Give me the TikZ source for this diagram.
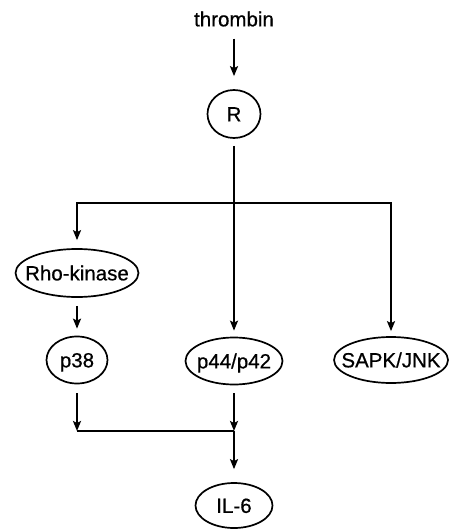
\documentclass[tikz,border=0pt]{standalone}
\usepackage{fontspec}
\setmainfont[FakeBold=0.6,AutoFakeBold=0.6]{Liberation Sans}
\usetikzlibrary{shapes.geometric,arrows.meta}
\newcommand{\zw}[1]{\makebox[0pt][c]{#1}}
\begin{document}
\begin{tikzpicture}[x=1pt,y=-1pt,
  every node/.style={font=\fontsize{20.5}{23}\selectfont\bfseries},
  oval/.style={ellipse,draw,line width=1.7pt,inner sep=0pt,text height=14.7pt,text depth=0pt},
  conn/.style={line width=2pt},
  arr/.style={conn,-{Stealth[length=10pt,width=8pt,inset=2pt]}}]
\useasboundingbox (0,0) rectangle (448,529);
\node[inner sep=0pt] (thrombin) at (234,19) {thrombin};
\node[oval,minimum width=53pt,minimum height=48pt] (R) at (234,114) {\zw{R}};
\node[oval,minimum width=123pt,minimum height=48pt] (rho) at (77,273) {\zw{Rho-kinase}};
\node[oval,minimum width=61pt,minimum height=47pt] (p38) at (77,360) {\zw{p38}};
\node[oval,minimum width=97pt,minimum height=47pt] (p44) at (234,361) {\zw{p44/p42}};
\node[oval,minimum width=114pt,minimum height=46pt] (sapk) at (391,360) {\zw{SAPK/JNK}};
\node[oval,minimum width=77pt,minimum height=45pt] (il6) at (234,505.5) {\zw{IL-6}};
\coordinate (br) at (234,203);
\coordinate (jn) at (234,431);
\draw[arr,shorten <=12pt,shorten >=13pt] (thrombin) -- (R);
\draw[arr,shorten <=7pt,shorten >=6pt] (R) -- (p44);
\draw[arr,shorten >=8pt] (br) -| (rho);
\draw[arr,shorten >=5pt] (br) -| (sapk);
\draw[arr,shorten <=8pt,shorten >=7pt] (rho) -- (p38);
\draw[arr,shorten <=9pt] (p38) -- (p38 |- jn);
\draw[arr,shorten <=8pt] (p44) -- (jn);
\draw[conn] (p38 |- jn) -- (jn);
\draw[arr,shorten >=13pt] (jn) -- (il6);
\end{tikzpicture}
\end{document}
